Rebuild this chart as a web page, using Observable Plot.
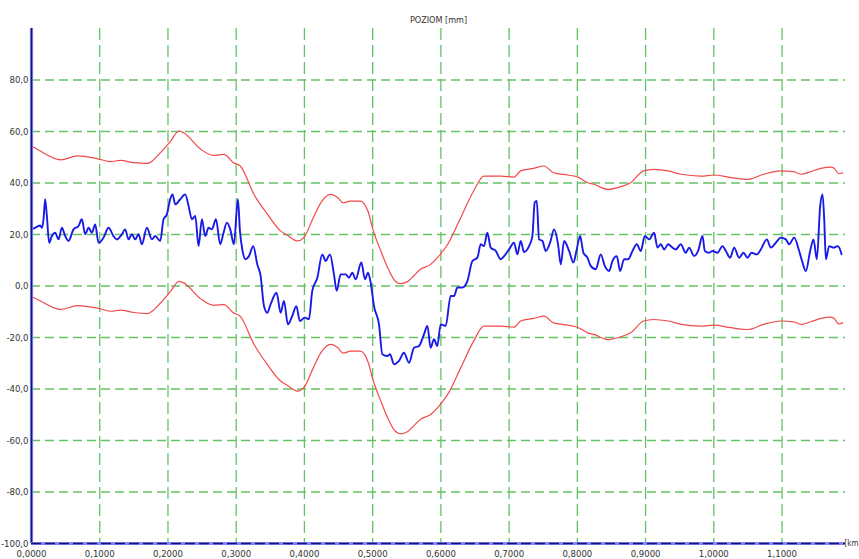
<!DOCTYPE html>
<html><head><meta charset="utf-8">
<script src="https://cdn.jsdelivr.net/npm/d3@7"></script>
<script src="https://cdn.jsdelivr.net/npm/@observablehq/plot@0.6"></script>
<style>body{margin:0;background:#fff;} #chart{width:859px;height:559px;}</style>
</head><body><div id="chart"></div>
<script>
const title = "POZIOM [mm]";
const xUnit = "[km";
const yTicks = [-100, -80, -60, -40, -20, 0, 20, 40, 60, 80];
const yGridVals = [-80, -60, -40, -20, 0, 20, 40, 60, 80];
const xTicks = [0, 0.1, 0.2, 0.3, 0.4, 0.5, 0.6, 0.7, 0.8, 0.9, 1.0, 1.1];
const xGridVals = [0.1, 0.2, 0.3, 0.4, 0.5, 0.6, 0.7, 0.8, 0.9, 1.0, 1.1];

const blueX = [
 0.0029,0.0078,0.0127,0.0152,0.0176,0.0200,0.0225,0.0259,0.0298,0.0347,0.0396,0.0445,0.0494,0.0543,0.0616,0.0689,0.0738,0.0787,0.0836,0.0885,0.0934,0.0982,0.1056,0.1129,0.1202,0.1251,0.1325,0.1373,0.1422,0.1471,0.1520,0.1569,0.1618,0.1691,0.1765,0.1813,0.1887,0.1935,0.1984,0.2033,0.2067,0.2107,0.2180,0.2253,0.2302,0.2351,0.2400,0.2449,0.2497,0.2546,0.2595,0.2644,0.2703,0.2766,0.2815,0.2864,0.2913,
 0.2966,0.3025,0.3055,0.3089,0.3138,0.3187,0.3250,0.3309,0.3358,0.3407,0.3455,0.3504,0.3592,0.3651,0.3700,0.3758,0.3822,0.3881,0.3934,0.4003,0.4066,0.4115,0.4189,0.4262,0.4311,0.4374,0.4433,0.4472,0.4531,0.4604,0.4653,0.4702,0.4751,0.4834,0.4888,0.4932,0.4971,0.5020,0.5093,0.5142,0.5215,0.5254,0.5313,0.5386,0.5459,0.5533,0.5606,0.5679,0.5752,0.5802,0.5850,0.5899,0.5948,0.5997,0.6070,0.6144,0.6193,0.6242,0.6315,0.6388,0.6462,0.6535,0.6584,0.6632,0.6681,0.6730,0.6804,0.6877,0.6926,0.6999,0.7072,0.7121,
 0.7170,0.7219,0.7292,0.7341,0.7375,0.7405,0.7439,0.7488,0.7537,0.7600,0.7659,0.7717,0.7757,0.7806,0.7879,0.7942,0.7991,0.8040,0.8089,0.8148,0.8196,0.8270,0.8343,0.8402,0.8465,0.8514,0.8578,0.8627,0.8685,0.8744,0.8808,0.8871,0.8930,0.8988,0.9052,0.9125,0.9174,0.9223,0.9272,0.9330,0.9394,0.9443,0.9516,0.9589,0.9638,0.9711,0.9770,0.9834,0.9868,0.9931,0.9980,1.0054,1.0127,1.0176,1.0239,1.0298,1.0371,1.0435,1.0494,1.0552,1.0630,1.0689,1.0777,1.0836,1.0909,1.0982,1.1056,1.1104,1.1178,1.1251,1.1300,1.1349,1.1412,1.1461,1.1510,1.1559,1.1593,1.1618,1.1642,1.1691,1.1755,1.1814,1.1838,1.1872];
const blueY = [
 22.3,23.0,23.5,22.6,25.9,33.7,27.2,16.8,19.4,20.7,18.1,22.6,19.4,17.5,22.0,23.3,25.9,20.1,22.6,20.7,23.9,16.8,18.8,22.6,19.4,18.1,20.1,22.0,18.1,20.1,18.1,20.1,16.2,22.6,18.1,19.4,17.5,25.9,27.8,33.7,35.6,31.7,33.7,35.6,31.1,25.9,27.2,15.5,25.9,19.4,22.6,22.0,25.9,16.2,20.7,24.6,22.0,
 16.2,33.7,21.4,14.2,10.4,11.6,15.5,8.4,3.9,-7.8,-10.4,-7.1,-2.6,-10.4,-5.8,-14.9,-11.6,-7.8,-13.6,-12.3,-12.9,-1.9,3.2,12.3,9.7,12.3,4.5,-1.9,4.5,4.5,3.2,5.2,2.6,9.1,2.6,5.2,1.3,-7.8,-14.9,-26.5,-27.2,-26.5,-30.4,-29.1,-25.9,-29.8,-24.0,-23.3,-18.8,-15.5,-24.0,-20.7,-23.3,-14.9,-15.5,-3.9,-3.9,-0.6,-0.6,1.9,9.7,11.0,16.2,15.5,20.7,14.9,13.6,10.4,11.6,14.2,16.8,12.3,
 17.5,13.2,15.5,19.4,32.4,33.0,18.1,17.5,13.6,16.8,22.0,16.2,8.4,17.5,13.6,9.1,14.2,19.4,12.9,11.0,7.8,6.5,12.3,7.8,5.8,9.7,11.6,5.8,10.4,10.4,13.6,16.2,13.6,19.4,18.1,20.7,14.9,16.2,14.2,16.2,14.9,14.2,16.2,12.9,14.9,11.6,13.6,19.4,13.6,12.9,13.6,12.9,15.5,13.6,11.0,14.9,11.0,12.9,11.0,12.9,12.3,14.2,18.1,14.9,16.8,18.8,18.1,16.2,18.8,13.6,9.1,5.8,13.6,18.1,10.4,31.1,35.6,25.9,10.4,15.5,14.9,15.5,14.9,12.3];

const redX = [0.003,0.013,0.043,0.067,0.097,0.116,0.130,0.150,0.170,0.174,0.189,0.204,0.216,0.223,0.248,0.267,0.282,0.296,0.306,0.326,0.346,0.365,0.375,0.390,0.399,0.413,0.424,0.438,0.449,0.457,0.468,0.482,0.493,0.501,0.512,0.522,0.531,0.541,0.551,0.560,0.570,0.585,0.595,0.610,0.629,0.648,0.663,0.688,0.707,0.717,0.736,0.751,0.765,0.786,0.801,0.815,0.824,0.845,0.864,0.878,0.897,0.912,0.933,0.952,0.981,1.000,1.025,1.050,1.073,1.098,1.117,1.128,1.142,1.157,1.171,1.176,1.183,1.189];
const redUpper = [54.0,52.4,49.0,50.5,49.4,48.3,48.8,47.9,47.6,48.0,51.8,56.3,60.2,59.5,53.1,50.7,51.1,47.9,46.6,35.6,27.8,21.4,19.7,17.5,18.8,26.5,32.3,35.6,34.3,32.3,33.0,33.0,29.1,21.4,13.6,7.1,2.6,0.9,1.7,3.9,6.5,8.4,11.0,16.2,26.5,36.9,42.7,42.7,42.3,44.7,45.7,46.6,44.0,43.1,42.3,40.1,39.5,37.5,38.6,40.1,44.7,45.3,44.7,43.4,42.7,43.1,42.1,41.4,43.4,44.7,44.4,43.4,44.4,45.7,46.2,45.8,43.6,44.0];
const redLower = [-4.5,-5.8,-9.1,-7.6,-8.6,-9.8,-9.4,-10.3,-10.7,-10.3,-6.6,-2.0,1.8,1.2,-5.0,-7.5,-7.2,-10.4,-11.8,-22.6,-30.6,-36.9,-38.6,-40.8,-39.5,-31.8,-26.0,-22.7,-24.0,-26.1,-25.3,-25.3,-29.3,-36.9,-44.7,-51.2,-55.7,-57.4,-56.6,-54.4,-51.8,-49.9,-47.3,-42.1,-31.8,-21.4,-15.6,-15.6,-16.0,-13.6,-12.6,-11.7,-14.3,-15.2,-16.1,-18.2,-18.8,-20.8,-19.7,-18.2,-13.6,-13.0,-13.6,-14.9,-15.6,-15.2,-16.2,-16.9,-14.9,-13.6,-13.9,-14.9,-13.9,-12.6,-12.1,-12.5,-14.7,-14.3];

const blue = blueX.map((x, i) => ({x, y: blueY[i]}));
const upper = redX.map((x, i) => ({x, y: redUpper[i]}));
const lower = redX.map((x, i) => ({x, y: redLower[i]}));

const fmtY = v => v.toFixed(1).replace(".", ",");
const fmtX = v => v.toFixed(4).replace(".", ",");
const xMax = 1.193;
const font = "'Liberation Sans Narrow', 'Arial Narrow', 'DejaVu Sans Condensed', sans-serif";
const gridColor = "#66c266";

const chart = Plot.plot({
  width: 859, height: 559,
  marginTop: 28, marginBottom: 16, marginLeft: 31, marginRight: 14,
  x: {domain: [0, xMax], axis: null},
  y: {domain: [-100, 100], axis: null},
  style: {fontFamily: font, background: "white"},
  marks: [
    Plot.ruleY(yGridVals, {stroke: gridColor, strokeWidth: 1.3, strokeDasharray: "9,5"}),
    Plot.ruleX(xGridVals, {stroke: gridColor, strokeWidth: 1.3, strokeDasharray: "12,5"}),
    Plot.line(upper, {x: "x", y: "y", stroke: "#f24a4a", strokeWidth: 1.2, curve: "monotone-x"}),
    Plot.line(lower, {x: "x", y: "y", stroke: "#f24a4a", strokeWidth: 1.2, curve: "monotone-x"}),
    Plot.line(blue, {x: "x", y: "y", stroke: "#1a1ae8", strokeWidth: 1.9, curve: "monotone-x"}),
    Plot.ruleX([0], {stroke: "#8585ff", strokeWidth: 3.2}),
    Plot.ruleX([0], {stroke: "#141470", strokeWidth: 1.4}),
    Plot.ruleY([-100], {stroke: "#8585ff", strokeWidth: 3.2}),
    Plot.ruleY([-100], {stroke: "#141470", strokeWidth: 1.4, strokeDasharray: "10,4"}),
    Plot.text(yTicks, {x: 0, y: d => d, text: d => fmtY(d), textAnchor: "end", dx: -3, fontSize: 9.5, fill: "#333"}),
    Plot.text(xTicks, {x: d => d, y: -100, text: d => fmtX(d), dy: 10, fontSize: 9.5, fill: "#333"}),
    Plot.text([xUnit], {x: xMax, y: -100, text: d => d, textAnchor: "end", dx: 13, fontSize: 8, fill: "#333"}),
    Plot.text([title], {frameAnchor: "top", dy: -12, text: d => d, fontSize: 9, fill: "#333"})
  ]
});
document.getElementById("chart").appendChild(chart);
</script>
</body></html>
